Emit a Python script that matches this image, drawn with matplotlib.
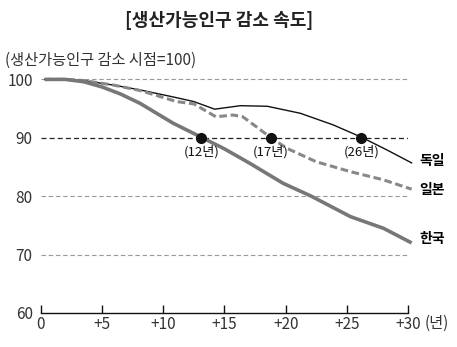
import matplotlib
matplotlib.use('Agg')
import matplotlib.pyplot as plt

plt.rcParams['font.family'] = ['Noto Sans CJK KR', 'DejaVu Sans']

# data
kor_x = [0.3, 2, 3.5, 5, 6.5, 8.1, 10.8, 13.2, 15, 17.1, 19.8, 22.1, 25.3, 28, 30.3]
kor_y = [100, 100, 99.6, 98.7, 97.5, 95.9, 92.5, 90, 88.1, 85.6, 82.2, 80, 76.5, 74.5, 72]
ger_x = [0.3, 2, 3.5, 6, 8.1, 10.8, 12.5, 14.2, 16.3, 18.5, 21.2, 23.9, 26.2, 28.3, 30.3]
ger_y = [100, 100, 99.8, 99, 98.2, 97, 96.2, 94.9, 95.5, 95.4, 94.2, 92.2, 90.1, 87.9, 85.7]
jpn_x = [0.3, 2, 3.5, 6, 8.1, 11.1, 12.5, 14.3, 15.7, 16.5, 17.6, 18.8, 20.1, 22.5, 25.3, 28, 30.3]
jpn_y = [100, 100, 99.8, 99, 98.1, 96.2, 95.8, 93.6, 93.9, 93.6, 91.9, 90, 88.2, 85.9, 84.2, 82.8, 81.2]

dot_x = [13.1, 18.8, 26.2]
dot_lbl = ['(12년)', '(17년)', '(26년)']
xticks = [0, 5, 10, 15, 20, 25, 30]
xlabels = ['0', '+5', '+10', '+15', '+20', '+25', '+30']
yticks = [60, 70, 80, 90, 100]

fig = plt.figure(figsize=(4.57, 3.47), dpi=100)
ax = fig.add_axes([0.0897, 0.098, 0.803, 0.690])
ax.set_xlim(0, 30)
ax.set_ylim(60, 101)

for v in [100, 80, 70]:
    ax.plot([0, 30], [v, v], color='#999999', lw=0.8, ls=(0, (4, 2.5)))
ax.plot([0, 30], [90, 90], color='#222222', lw=0.9, ls=(0, (4, 2.5)))

ax.plot(ger_x, ger_y, color='#111111', lw=1.0, clip_on=False)
ax.plot(jpn_x, jpn_y, color='#888888', lw=2.2, ls=(0, (2.5, 1.2)), clip_on=False)
ax.plot(kor_x, kor_y, color='#777777', lw=2.6, clip_on=False, solid_capstyle='butt')

ax.plot(dot_x, [90] * 3, 'o', color='#111111', ms=7, zorder=5)
for x, t in zip(dot_x, dot_lbl):
    ax.text(x, 88.7, t, ha='center', va='top', fontsize=9.5, color='#111111')

ax.text(30.9, 86.0, '독일', ha='left', va='center', fontsize=10, fontweight='bold')
ax.text(30.9, 81.0, '일본', ha='left', va='center', fontsize=10, fontweight='bold')
ax.text(30.9, 72.6, '한국', ha='left', va='center', fontsize=10, fontweight='bold')

for s in ['top', 'right', 'left']:
    ax.spines[s].set_visible(False)
ax.spines['bottom'].set_color('#111111')
ax.spines['bottom'].set_linewidth(1.0)
ax.set_xticks(xticks)
ax.set_xticklabels(xlabels)
ax.set_yticks(yticks)
ax.tick_params(axis='x', direction='in', length=6, width=1.0, color='#111111',
               labelsize=11, labelcolor='#333333', pad=2)
ax.tick_params(axis='y', length=0, labelsize=11, labelcolor='#333333', pad=6)
ax.text(31.4, 59.7, '(년)', ha='left', va='top', fontsize=11, color='#333333')

fig.text(0.48, 0.94, '[생산가능인구 감소 속도]', ha='center', va='center',
         fontsize=13, fontweight='bold', color='#222222')
fig.text(0.01, 0.825, '(생산가능인구 감소 시점=100)', ha='left', va='center',
         fontsize=11, color='#333333')

fig.savefig('out.png', dpi=100)
